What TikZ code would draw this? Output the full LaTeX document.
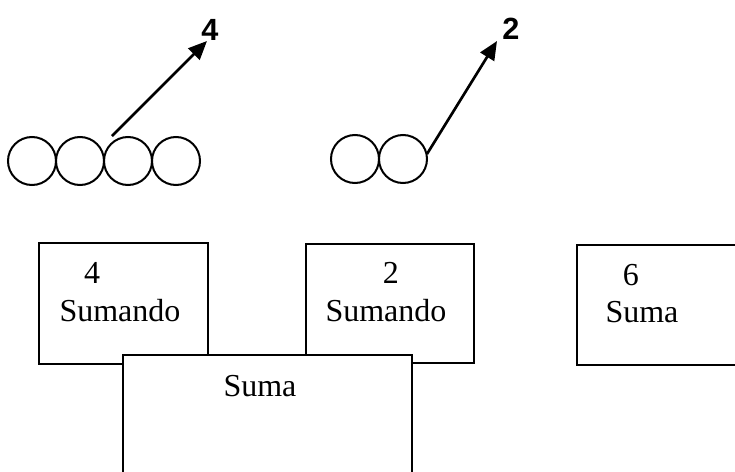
\documentclass[tikz,border=0pt]{standalone}
\usepackage{fontspec}
\setmainfont{Liberation Serif}
\newfontfamily\arialfont{Liberation Sans}
\usepackage{tikz}
\usetikzlibrary{arrows.meta}
\tikzset{
    >={Triangle[length=7pt,width=6pt]},
    font={\fontsize{12pt}{14}\selectfont},
}

\begin{document}
\begin{tikzpicture}
[
    x=0.375pt, y=-0.375pt,
    bola/.style={shape=circle, draw, line width=0.75pt, minimum size=18pt, inner sep=0pt},
    caja/.style={shape=rectangle, draw, line width=0.75pt, fill=white, inner sep=0pt},
    texto/.style={anchor=base, inner sep=0pt},
    cifra/.style={inner sep=0pt, font={\arialfont\bfseries\fontsize{11.5pt}{13}\selectfont}},
    flecha/.style={->, line width=1pt},
]
\useasboundingbox (0,0) rectangle (735,472);
\clip (0,0) rectangle (735,472);
% bolas
\node(b1) at (32,161)[bola]{};
\node(b2) at (80,161)[bola]{};
\node(b3) at (128,161)[bola]{};
\node(b4) at (176,161)[bola]{};
\node(b5) at (355,159)[bola]{};
\node(b6) at (403,159)[bola]{};
\node(cifra4) at (210,30)[cifra]{4};
\node(cifra2) at (511,29)[cifra]{2};
\coordinate (f4s) at (112,136);
\coordinate (f4e) at (207,41);
\coordinate (f2s) at (427,154);
\coordinate (f2e) at (497,41);
\draw[flecha] (f4s) to (f4e);
\draw[flecha] (f2s) to (f2e);
% cajas
\node(sumando1) at (123.5,303.5)[caja, minimum width=63.4pt, minimum height=45.4pt]{};
\node(sumando2) at (390,303.5)[caja, minimum width=63pt, minimum height=44.8pt]{};
\node(suma) at (267.5,427.5)[caja, minimum width=108.4pt, minimum height=54.4pt]{};
\node(resultado) at (668.5,305)[caja, minimum width=68.6pt, minimum height=45pt]{};
\node(n4) at (92,283)[texto]{4};
\node(t1) at (120,321)[texto]{Sumando};
\node(n2) at (391,283)[texto]{2};
\node(t2) at (386,321)[texto]{Sumando};
\node(t3) at (260,396)[texto]{Suma};
\node(n6) at (631,285)[texto]{6};
\node(t4) at (642,322)[texto]{Suma};
\end{tikzpicture}
\end{document}
